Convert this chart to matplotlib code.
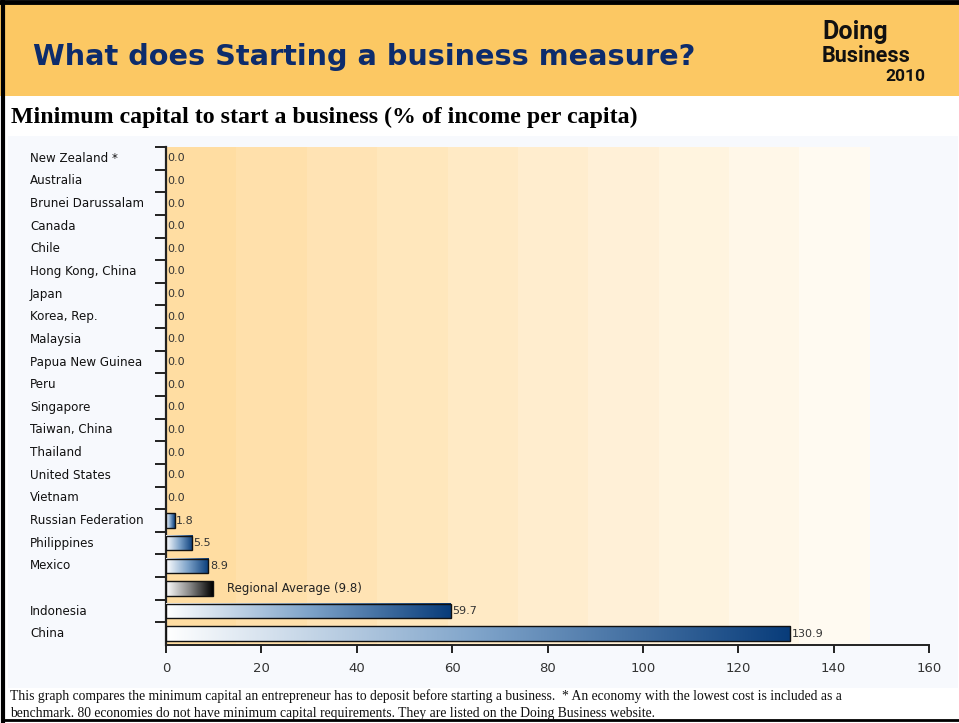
import matplotlib
matplotlib.use("Agg")
import matplotlib.pyplot as plt
from matplotlib.colors import LinearSegmentedColormap, to_rgb
from matplotlib.patches import Rectangle
from matplotlib import transforms
import numpy as np

# economies, top to bottom, and minimum capital (% of income per capita)
economies = ["New Zealand *", "Australia", "Brunei Darussalam", "Canada", "Chile",
             "Hong Kong, China", "Japan", "Korea, Rep.", "Malaysia", "Papua New Guinea",
             "Peru", "Singapore", "Taiwan, China", "Thailand", "United States", "Vietnam",
             "Russian Federation", "Philippines", "Mexico", "", "Indonesia", "China"]
capital = [0.0, 0.0, 0.0, 0.0, 0.0, 0.0, 0.0, 0.0, 0.0, 0.0, 0.0, 0.0, 0.0, 0.0,
           0.0, 0.0, 1.8, 5.5, 8.9, 9.8, 59.7, 130.9]
average_row = 19
average_label = "Regional Average (9.8)"
xticks = [0, 20, 40, 60, 80, 100, 120, 140, 160]

W, H = 959, 723
fig = plt.figure(figsize=(W / 100, H / 100), dpi=100)
fig.patch.set_facecolor("white")

def fx(x):
    return x / W

def fy(y):
    return 1 - y / H

# header band
fig.patches.append(Rectangle((0, fy(96)), 1, fy(4) - fy(96), transform=fig.transFigure,
                             facecolor="#FCC863", edgecolor="none", zorder=-2))
# light panel behind the chart
fig.patches.append(Rectangle((fx(8), fy(688)), fx(950), fy(136) - fy(688), transform=fig.transFigure,
                             facecolor="#F7F9FD", edgecolor="none", zorder=-2))
# frame lines
fig.add_artist(plt.Line2D([0, 1], [fy(2), fy(2)], transform=fig.transFigure, color="black", lw=3.5))
fig.add_artist(plt.Line2D([fx(3), fx(3)], [fy(2), fy(721)], transform=fig.transFigure, color="black", lw=3))
fig.add_artist(plt.Line2D([fx(3), 1], [fy(720), fy(720)], transform=fig.transFigure, color="black", lw=2))

fig.text(fx(33), fy(57), "What does Starting a business measure?", fontsize=20.7, fontweight="bold",
         color="#0D2C6C", va="center", ha="left", family="DejaVu Sans")

# logo text
logo_font = ["Roboto", "DejaVu Sans"]
fig.text(fx(822), fy(39), "Doing", fontsize=18, fontweight="bold", color="#111111",
         ha="left", va="baseline", family=logo_font)
fig.text(fx(822), fy(62), "Business", fontsize=15.5, fontweight="bold", color="#111111",
         ha="left", va="baseline", family=logo_font)
fig.text(fx(925), fy(81), "2010", fontsize=12.5, fontweight="bold", color="#111111",
         ha="right", va="baseline", family=logo_font)

fig.text(fx(11), fy(117), "Minimum capital to start a business (% of income per capita)",
         fontsize=17.2, fontweight="bold", family="Liberation Serif", va="center", ha="left")

footer = ("This graph compares the minimum capital an entrepreneur has to deposit before starting a business. "
          " * An economy with the lowest cost is included as a\n"
          "benchmark. 80 economies do not have minimum capital requirements. They are listed on the Doing Business website.")
fig.text(fx(10), fy(705), footer, fontsize=9.8, family="Liberation Serif", va="center", ha="left",
         linespacing=1.42, color="#111111")

# chart
ax = fig.add_axes([fx(166), fy(645), fx(929) - fx(166), fy(147) - fy(645)])
ax.set_zorder(1)
ax.set_facecolor("#F7F9FD")

n = len(economies)
rows = np.arange(n)

# stepped orange backdrop
band_end = 147.6
n_bands = 10
c0 = np.array(to_rgb("#FFDDA2"))
c1 = np.array(to_rgb("#FFFAF1"))
edges = np.linspace(0, band_end, n_bands + 1)
for i in range(n_bands):
    t = i / (n_bands - 1)
    ax.axvspan(edges[i], edges[i + 1], color=c0 + (c1 - c0) * t, lw=0, zorder=0)

blue_map = LinearSegmentedColormap.from_list("blues", ["#FFFFFF", "#7FA4CA", "#083C7A"])
grey_map = LinearSegmentedColormap.from_list("greys", ["#FFFFFF", "#8A8A8A", "#000000"])
grad = np.linspace(0, 1, 256).reshape(1, -1)
bar_h = 0.64

for r, v in zip(rows, capital):
    if v > 0:
        cmap = grey_map if r == average_row else blue_map
        ax.imshow(grad, extent=[0, v, r + bar_h / 2, r - bar_h / 2], aspect="auto",
                  cmap=cmap, zorder=3, interpolation="bilinear")
        ax.add_patch(Rectangle((0, r - bar_h / 2), v, bar_h, facecolor="none",
                               edgecolor="#111111", lw=1.0, zorder=4))
    if r == average_row:
        ax.text(v + 3, r, average_label, fontsize=8.5, va="center", ha="left",
                color="#222222", zorder=5)
    else:
        ax.text(v + 0.3, r, f"{v:.1f}", fontsize=8, va="center", ha="left",
                color="#333333", zorder=5)

# economy names on the left
label_tr = transforms.blended_transform_factory(fig.transFigure, ax.transData)
for r, name in zip(rows, economies):
    ax.text(fx(30), r, name, transform=label_tr, fontsize=8.6, va="center", ha="left",
            color="#111111", clip_on=False)

ax.set_xlim(0, 160)
ax.set_ylim(n - 0.5, -0.5)
ax.set_yticks(np.arange(-0.5, n - 1))
ax.set_yticklabels([])
ax.set_xticks(xticks)
ax.set_xticklabels([str(t) for t in xticks], fontsize=9.5, color="#333333")
ax.tick_params(axis="y", direction="out", length=8, width=1.4, color="#222222")
ax.tick_params(axis="x", direction="out", length=6, width=1.4, color="#222222", pad=6)
for side in ["top", "right"]:
    ax.spines[side].set_visible(False)
ax.spines["left"].set_linewidth(1.6)
ax.spines["left"].set_color("#222222")
ax.spines["bottom"].set_linewidth(1.4)
ax.spines["bottom"].set_color("#222222")

fig.savefig("out.png", dpi=100)
